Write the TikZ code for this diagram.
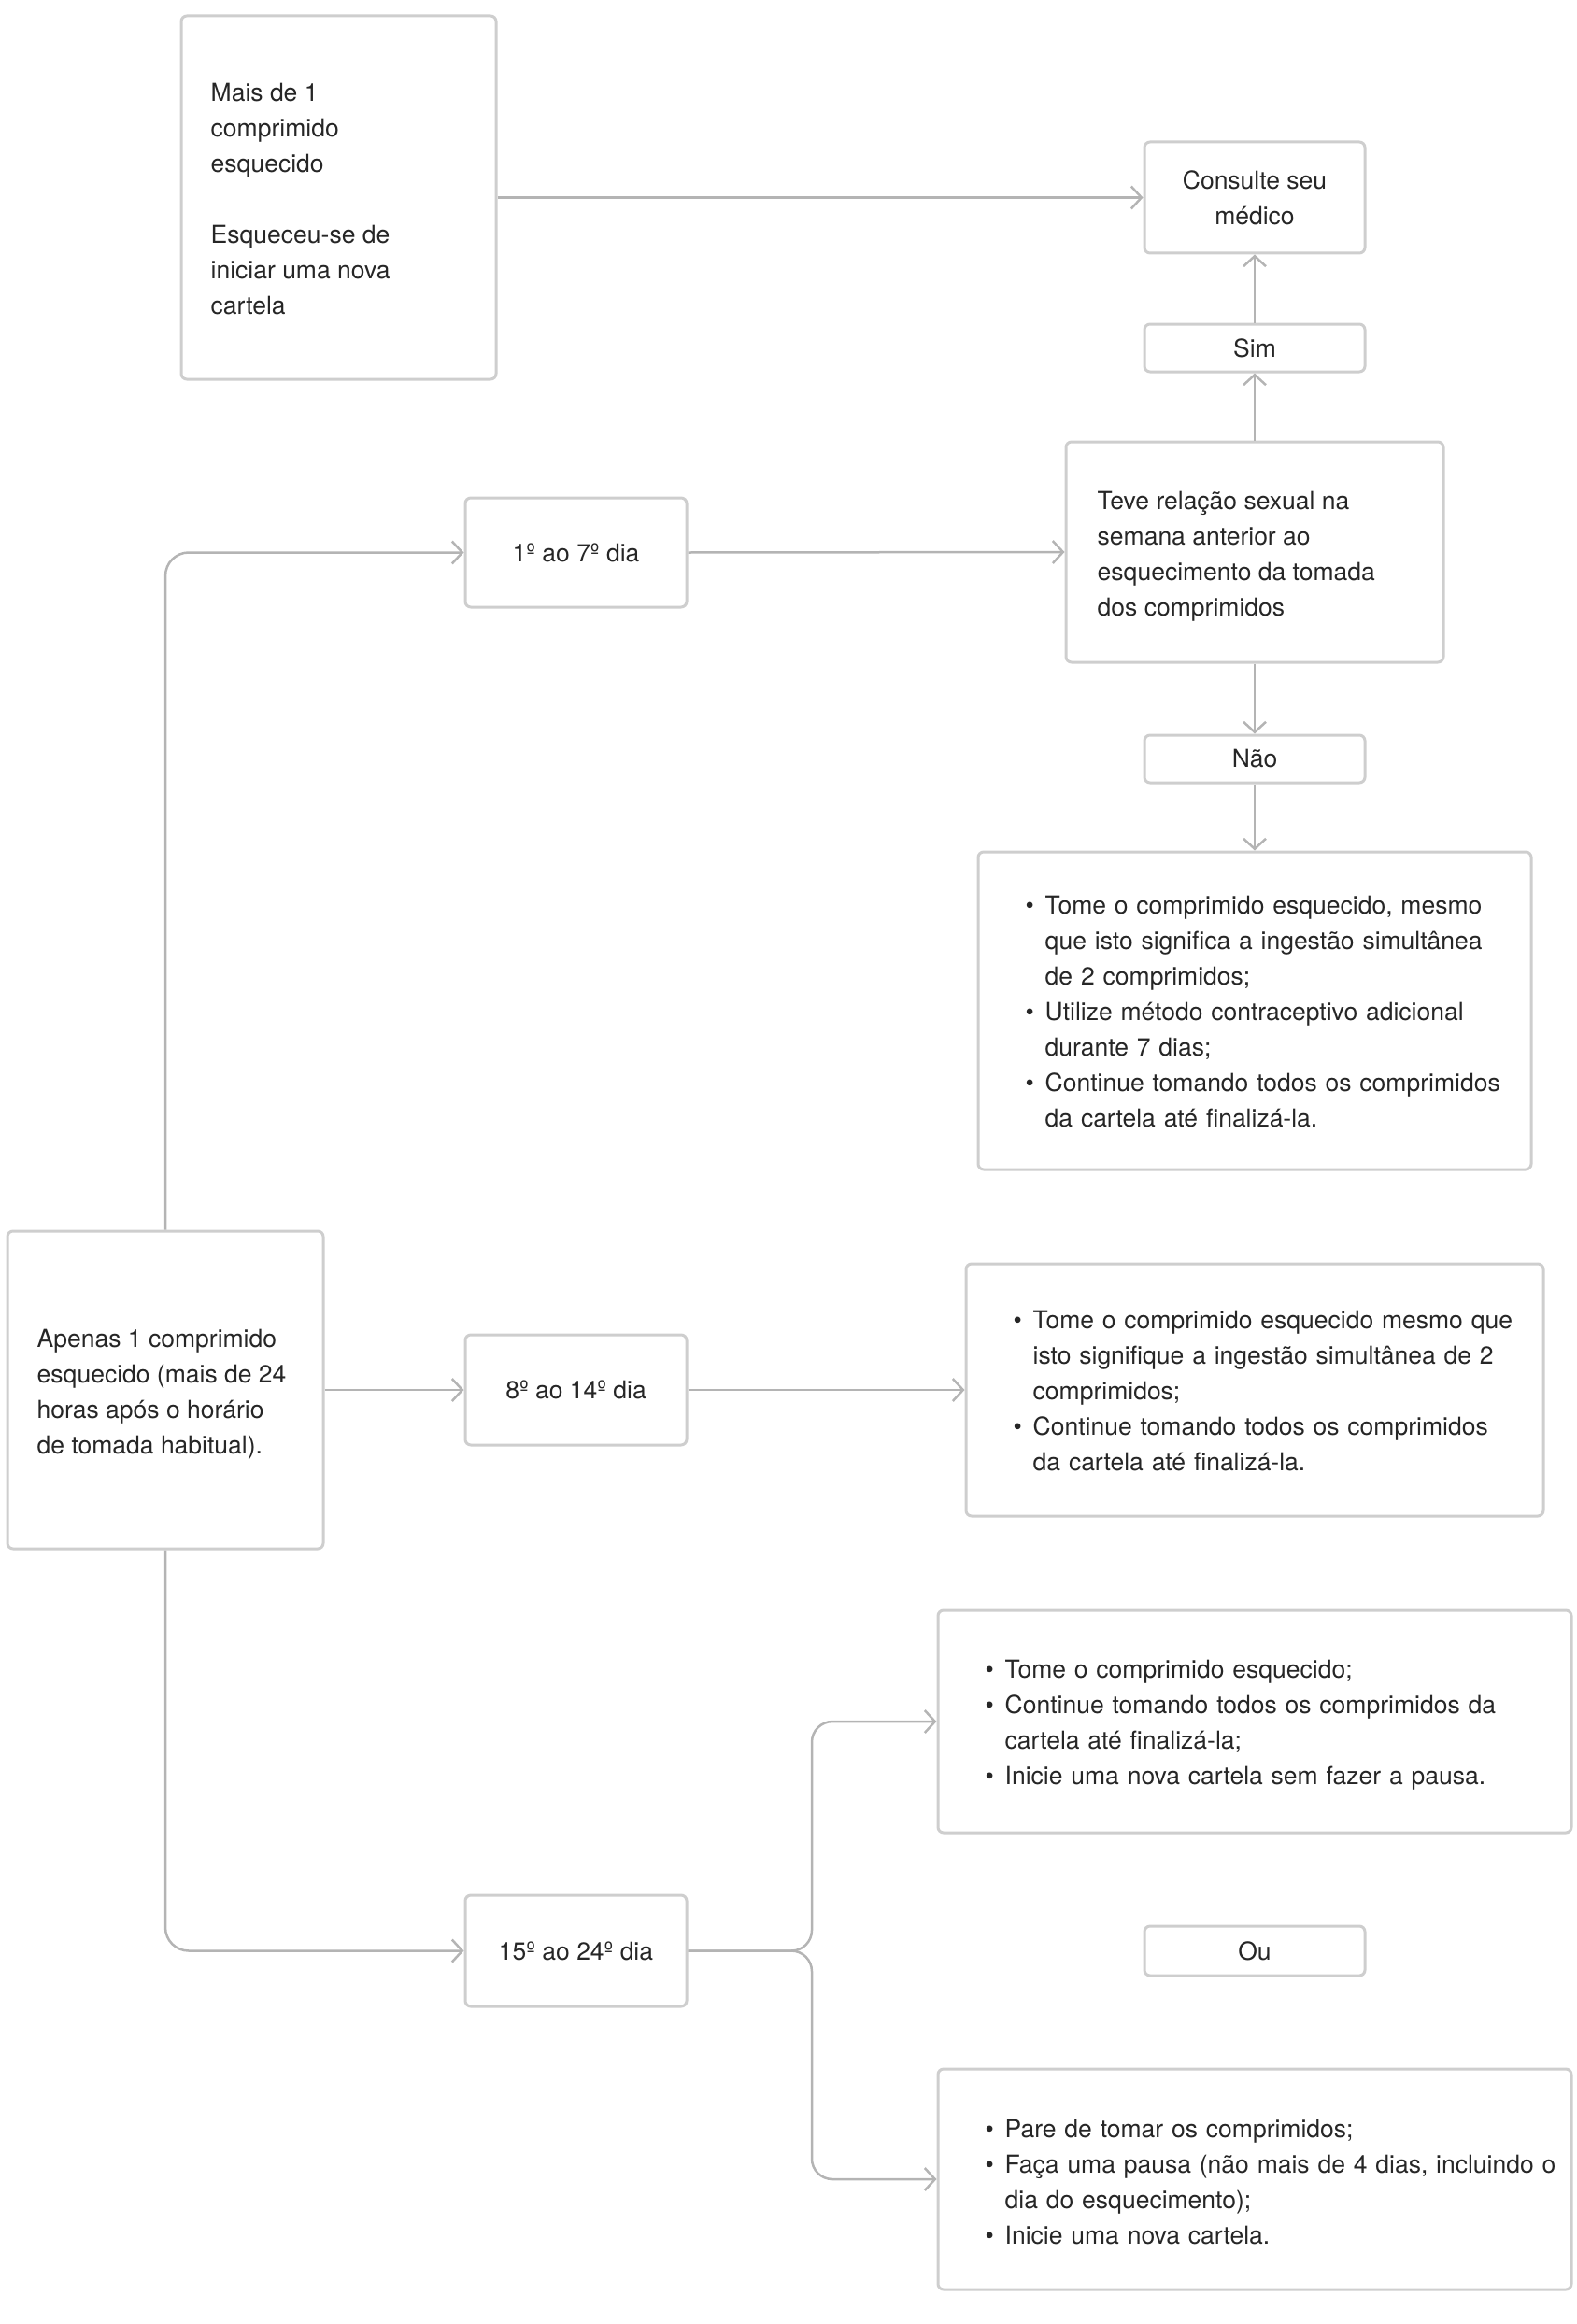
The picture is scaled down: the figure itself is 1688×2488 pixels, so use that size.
\documentclass[tikz,border=0pt]{standalone}
\usepackage{fontspec}
\setmainfont{TeX Gyre Heros}
\usetikzlibrary{arrows.meta}
\definecolor{txt}{RGB}{38,38,38}
\definecolor{bord}{RGB}{206,206,206}
\definecolor{conn}{RGB}{180,180,180}
\newcommand{\bul}[1]{\hangindent=21pt\hangafter=1\noindent\makebox[21pt][l]{\textbullet}#1\par}
\tikzset{
  box/.style={draw=bord, line width=3pt, rounded corners=6pt, fill=white, text=txt,
    font=\fontsize{26.5}{38}\selectfont, inner sep=0pt, align=center},
  txtn/.style={text=txt, font=\fontsize{26.5}{38}\selectfont, inner sep=0pt, align=left, anchor=west},
  bultxt/.style={txtn, text width=720pt},
  link/.style={draw=conn, line width=2.5pt, -{Straight Barb[length=11pt,width=24pt,line width=2.5pt]}}
}
\begin{document}
\begin{tikzpicture}[x=1pt,y=-1pt]
\useasboundingbox (0,0) rectangle (1688,2488);
% boxes
\node[box, minimum width=337pt, minimum height=389pt] (A) at (362.5,211.5) {};
\node[txtn, yshift=-1.5pt] (tA) at ([xshift=33pt]A.west) {Mais de 1\\comprimido\\esquecido\\[38pt]Esqueceu-se de\\iniciar uma nova\\cartela};
\node[box, minimum width=236pt, minimum height=119pt] (C) at (1343,211.5) {Consulte seu\\médico};
\node[box, minimum width=236pt, minimum height=51pt] (S) at (1343,372.5) {Sim};
\node[box, minimum width=404pt, minimum height=236pt] (T) at (1343,591) {};
\node[txtn, yshift=-5pt] (tT) at ([xshift=35pt]T.west) {Teve relação sexual na\\semana anterior ao\\esquecimento da tomada\\dos comprimidos};
\node[box, minimum width=236pt, minimum height=51pt] (N) at (1343,812.5) {Não};
\node[box, minimum width=592pt, minimum height=340pt] (B1) at (1343,1082) {};
\node[bultxt, yshift=-1pt] (tB1) at ([xshift=52pt]B1.west) {%
\bul{Tome o comprimido esquecido, mesmo\newline que isto significa a ingestão simultânea\newline de 2 comprimidos;}%
\bul{Utilize método contraceptivo adicional\newline durante 7 dias;}%
\bul{Continue tomando todos os comprimidos\newline da cartela até finalizá-la.}};
\node[box, minimum width=237pt, minimum height=117pt] (D1) at (616.5,591.5) {1º ao 7º dia};
\node[box, minimum width=338pt, minimum height=340pt] (P) at (177,1488) {};
\node[txtn, yshift=-5pt] (tP) at ([xshift=33pt]P.west) {Apenas 1 comprimido\\esquecido (mais de 24\\horas após o horário\\de tomada habitual).};
\node[box, minimum width=237pt, minimum height=118pt] (D8) at (616.5,1488) {8º ao 14º dia};
\node[box, minimum width=618pt, minimum height=270pt] (B2) at (1343,1488) {};
\node[bultxt, yshift=-1pt] (tB2) at ([xshift=52pt]B2.west) {%
\bul{Tome o comprimido esquecido mesmo que\newline isto signifique a ingestão simultânea de 2\newline comprimidos;}%
\bul{Continue tomando todos os comprimidos\newline da cartela até finalizá-la.}};
\node[box, minimum width=237pt, minimum height=119pt] (D15) at (616.5,2088.5) {15º ao 24º dia};
\node[box, minimum width=678pt, minimum height=238pt] (B3) at (1343,1843) {};
\node[bultxt, yshift=-4pt] (tB3) at ([xshift=52pt]B3.west) {%
\bul{Tome o comprimido esquecido;}%
\bul{Continue tomando todos os comprimidos da\newline cartela até finalizá-la;}%
\bul{Inicie uma nova cartela sem fazer a pausa.}};
\node[box, minimum width=236pt, minimum height=53pt] (O) at (1343,2088.5) {Ou};
\node[box, minimum width=678pt, minimum height=236pt] (B4) at (1343,2333) {};
\node[bultxt, yshift=-3pt] (tB4) at ([xshift=52pt]B4.west) {%
\bul{Pare de tomar os comprimidos;}%
\bul{Faça uma pausa (não mais de 4 dias, incluindo o\newline dia do esquecimento);}%
\bul{Inicie uma nova cartela.}};
\coordinate (J) at (869,2088.5);
% connectors
\draw[link] (A.east) -- (C.west);
\draw[link] (T.north) -- (S.south);
\draw[link] (S.north) -- (C.south);
\draw[link] (T.south) -- (N.north);
\draw[link] (N.south) -- (B1.north);
\draw[link, rounded corners=25pt] (P.north) |- (D1.west);
\draw[link] (D1.east) -- (T.west);
\draw[link] (P.east) -- (D8.west);
\draw[link] (D8.east) -- (B2.west);
\draw[link, rounded corners=25pt] (P.south) |- (D15.west);
\draw[link, rounded corners=22pt] (D15.east) -- (J) |- (B3.west);
\draw[link, rounded corners=22pt] (D15.east) -- (J) |- (B4.west);
\end{tikzpicture}
\end{document}
